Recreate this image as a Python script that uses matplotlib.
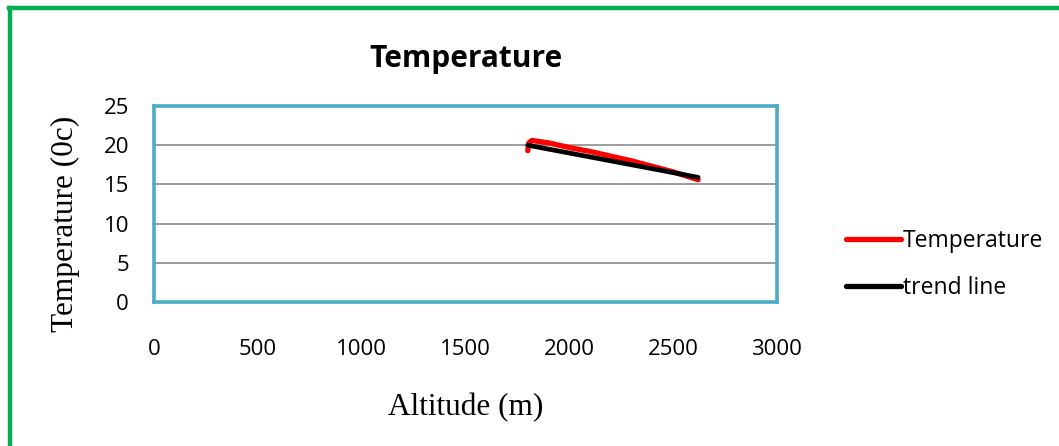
import matplotlib.pyplot as plt
from matplotlib.lines import Line2D

# measured temperature vs altitude
altitude = [1800, 1805, 1820, 1900, 2000, 2100, 2200, 2300, 2400, 2500, 2620]
temperature = [19.3, 20.3, 20.6, 20.3, 19.7, 19.2, 18.6, 18.0, 17.3, 16.6, 15.6]

# linear trend line end points
trend_alt = [1800, 2620]
trend_temp = [20.0, 15.9]

x_ticks = [0, 500, 1000, 1500, 2000, 2500, 3000]
y_ticks = [0, 5, 10, 15, 20, 25]

plt.rcParams['font.family'] = ['Open Sans', 'DejaVu Sans']

fig = plt.figure(figsize=(10.59, 4.46), dpi=100)
ax = fig.add_axes([0.1454, 0.3229, 0.5883, 0.4394])

ax.plot(altitude, temperature, color='#ff0000', lw=3.8, solid_capstyle='round',
        solid_joinstyle='round', label='Temperature', zorder=3)
ax.plot(trend_alt, trend_temp, color='black', lw=3.4, solid_capstyle='round',
        label='trend line', zorder=4)

ax.set_xlim(0, 3000)
ax.set_ylim(0, 25)
ax.set_xticks(x_ticks)
ax.set_yticks(y_ticks)
ax.tick_params(axis='x', length=0, pad=27, labelsize=16)
ax.tick_params(axis='y', length=0, pad=18, labelsize=16)
ax.grid(axis='y', color='#8c8c8c', lw=1.2)
ax.set_axisbelow(True)
for s in ax.spines.values():
    s.set_color('#4bacc6')
    s.set_linewidth(2.6)

ax.set_title('Temperature', fontsize=21.5, fontweight='bold', pad=28)
ax.set_xlabel('Altitude (m)', family='Liberation Serif', fontsize=22.5)
ax.xaxis.set_label_coords(0.5, -0.465)
ax.set_ylabel('Temperature (0c)', family='Liberation Serif', fontsize=22.5)
ax.yaxis.set_label_coords(-0.118, 0.40)

handles = [Line2D([], [], color='#ff0000', lw=3.8, solid_capstyle='round'),
           Line2D([], [], color='black', lw=3.8, solid_capstyle='round')]
fig.legend(handles, ['Temperature', 'trend line'], loc='center left',
           bbox_to_anchor=(0.779, 0.407), frameon=False, fontsize=16.5,
           handlelength=2.4, handletextpad=0.1, labelspacing=1.0)

# green border on the top and left of the picture
fig.add_artist(Line2D([0.0099, 0.0099], [0, 0.981], color='#00b050', lw=3.2,
                      transform=fig.transFigure))
fig.add_artist(Line2D([0.0085, 1.0], [0.981, 0.981], color='#00b050', lw=3.2,
                      transform=fig.transFigure))

fig.savefig('out.png', dpi=100)
